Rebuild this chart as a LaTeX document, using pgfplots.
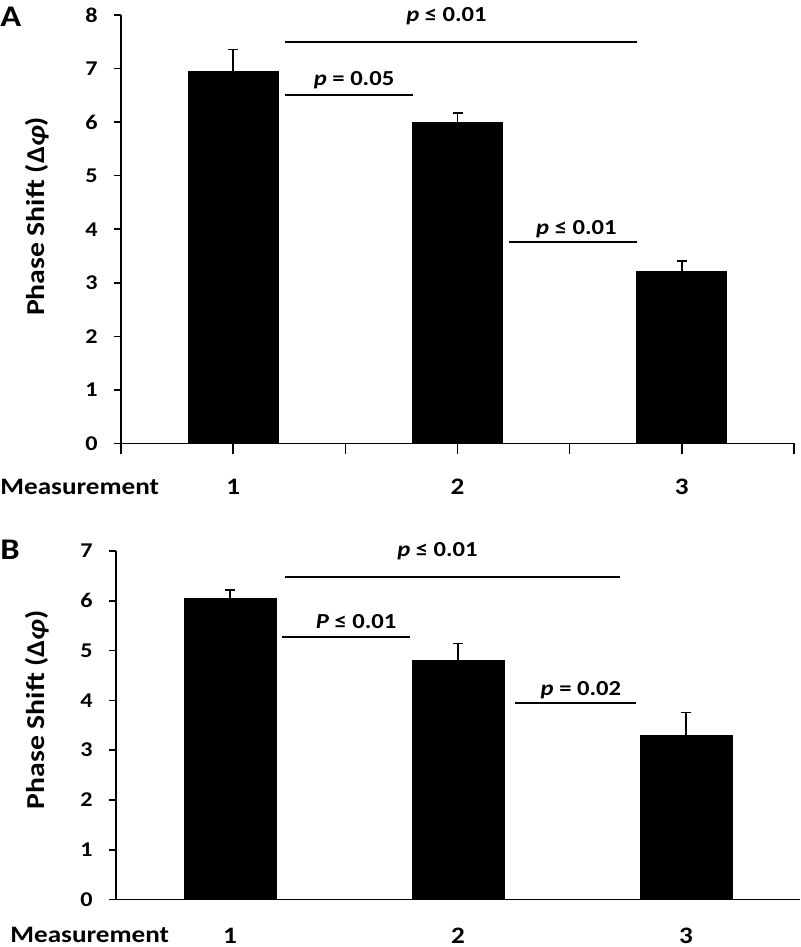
\documentclass[border=0pt]{standalone}
\usepackage{fontspec}
\setmainfont{Carlito}[FakeStretch=1.15]
\usepackage{pgfplots}
\pgfplotsset{compat=1.18}
\usepackage{pgfplotstable}

\pgfplotstableread{
x y e
1 6.95 0.41
2 6.00 0.17
3 3.22 0.19
}\dataA
\pgfplotstableread{
x y e
1 6.04 0.18
2 4.80 0.34
3 3.30 0.46
}\dataB

\newcommand{\fx}{\bfseries\fontsize{11.8}{13}\selectfont}
\newcommand{\fy}{\bfseries\fontsize{10.5}{12}\selectfont}
\newcommand{\fp}{\bfseries\fontsize{10.7}{12}\selectfont}
\newcommand{\fl}{\bfseries\fontsize{12.9}{15}\selectfont}
\newcommand{\fA}{\bfseries\fontsize{15}{17}\selectfont}

\pgfplotsset{
  mystyle/.style={
    scale only axis, axis lines=left, axis line style={-, line width=0.8pt, black},
    enlargelimits=false, xmin=0.5, xmax=3.5, ymin=0,
    tick align=outside, major tick length=3.5pt, tick style={black, line width=0.8pt},
    /pgf/number format/assume math mode=true,
    yticklabel style={font=\fy, anchor=east, inner sep=0pt, xshift=-8pt},
    extra x ticks={1,2,3}, extra x tick labels={1,2,3},
    extra x tick style={major tick length=0pt,
      xticklabel style={font=\fx, anchor=base, inner sep=0pt}},
    ylabel={Phase Shift (Δ\textit{φ})},
    ylabel style={font=\fl, anchor=center},
    clip=false,
  },
  mybars/.style={ybar, bar width=#1, fill=black, draw=black,
    error bars/.cd, y dir=plus, y explicit,
    error bar style={line width=0.75pt, black},
    error mark options={rotate=90, mark size=2.5pt, line width=0.75pt, black}},
  sig/.style={black, line width=1pt},
}

\begin{document}
\begin{tikzpicture}
\path[use as bounding box] (0,0) rectangle (400pt,473.5pt);

% Panel A
\begin{axis}[mystyle, at={(60.5pt,251.75pt)}, anchor=south west,
  width=336.5pt, height=214.25pt, ymax=8, ytick={0,...,8},
  xtick={0.5,1.5,2.5,3.5}, xticklabels={},
  xtick style={/pgfplots/major tick length=5.5pt},
  extra x tick style={xticklabel style={yshift=-25.75pt}},
  ylabel style={at={(axis description cs:-0.1248,0.53)}}]
\addplot[mybars=45pt] table[x=x, y=y, y error=e]{\dataA};
\addplot[sig] coordinates {(1.23,7.50) (2.80,7.50)};
\addplot[sig] coordinates {(1.23,6.51) (1.80,6.51)};
\addplot[sig] coordinates {(2.23,3.77) (2.80,3.77)};
\node[font=\fp, anchor=base, inner sep=0pt] at (axis cs:1.951,7.50) [yshift=10pt] {\textit{p} ≤ 0.01};
\node[font=\fp, anchor=base, inner sep=0pt] at (axis cs:1.539,6.51) [yshift=4.5pt] {\textit{p} = 0.05};
\node[font=\fp, anchor=base, inner sep=0pt] at (axis cs:2.530,3.77) [yshift=3.5pt] {\textit{p} ≤ 0.01};
\end{axis}

% Panel B
\begin{axis}[mystyle, at={(58pt,23.75pt)}, anchor=south west,
  width=342pt, height=174.25pt, ymax=7, ytick={0,...,7},
  xtick=\empty,
  extra x tick style={xticklabel style={yshift=-21.75pt}},
  ylabel style={at={(axis description cs:-0.1155,0.545)}}]
\addplot[mybars=46pt] table[x=x, y=y, y error=e]{\dataB};
\addplot[sig] coordinates {(1.24,6.48) (2.71,6.48)};
\addplot[sig] coordinates {(1.23,5.28) (1.79,5.28)};
\addplot[sig] coordinates {(2.25,3.94) (2.78,3.94)};
\node[font=\fp, anchor=base, inner sep=0pt] at (axis cs:1.910,6.48) [yshift=10pt] {\textit{p} ≤ 0.01};
\node[font=\fp, anchor=base, inner sep=0pt] at (axis cs:1.553,5.28) [yshift=4pt] {\textit{P} ≤ 0.01};
\node[font=\fp, anchor=base, inner sep=0pt] at (axis cs:2.539,3.94) [yshift=4pt] {\textit{p} = 0.02};
\end{axis}

\node[font=\fA, anchor=north west, inner sep=0pt] at (0pt,470pt) {A};
\node[font=\fA, anchor=north west, inner sep=0pt] at (0pt,203.5pt) {B};
\node[font=\fx, anchor=base west, inner sep=0pt] at (0pt,226pt) {Measurement};
\node[font=\fx, anchor=base west, inner sep=0pt] at (5pt,2pt) {Measurement};
\end{tikzpicture}
\end{document}
